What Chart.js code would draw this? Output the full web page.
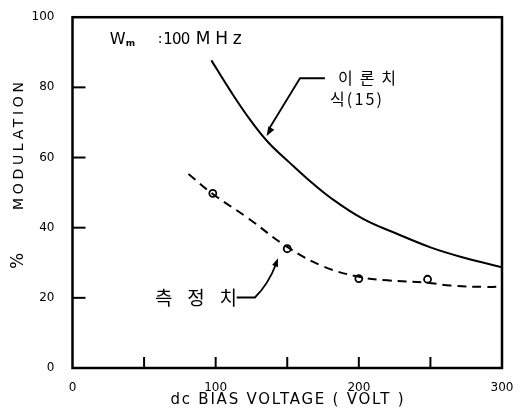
<!DOCTYPE html>
<html>
<head>
<meta charset="utf-8">
<script src="https://cdn.jsdelivr.net/npm/chart.js@4.4.0/dist/chart.umd.min.js"></script>
<style>
  html, body { margin: 0; padding: 0; background: #fff; }
  #chartMod { display: block; }
</style>
</head>
<body>
<canvas id="chartMod" width="532" height="412"></canvas>
<script>
// theory curve, eq.(15)
const theoryX = [97, 110, 124, 137, 152, 165, 180, 203, 227, 250, 273, 300];
const theoryY = [87.7, 79.2, 70.8, 64.2, 58.4, 53.6, 48.6, 42.5, 38.2, 34.4, 31.5, 28.7];

// dashed fit through measured values
const fitX = [81, 98, 122, 150, 175, 200, 220, 248, 264, 289, 300];
const fitY = [55.3, 49.6, 42.9, 34.5, 29, 26, 25, 24.3, 23.5, 23.1, 23.2];

// measured points
const measX = [98, 150, 200, 248];
const measY = [49.8, 34, 25.5, 25.3];

const xTickLabels = [0, 100, 200, 300];
const yTickLabels = [0, 20, 40, 60, 80, 100];

const toPts = (xs, ys) => xs.map((x, i) => ({ x: x, y: ys[i] }));

const FONT = '"DejaVu Sans", sans-serif';

function spacedText(ctx, text, cx, cy, width) {
  // spread letters so the text fills the given width
  ctx.letterSpacing = '0px';
  const w0 = ctx.measureText(text).width;
  const ls = text.length > 1 ? (width - w0) / (text.length - 1) : 0;
  ctx.letterSpacing = ls + 'px';
  ctx.textAlign = 'left';
  ctx.fillText(text, cx - width / 2, cy);
  ctx.letterSpacing = '0px';
}

function arrowHead(ctx, x0, y0, x1, y1, size) {
  const a = Math.atan2(y1 - y0, x1 - x0);
  ctx.beginPath();
  ctx.moveTo(x1, y1);
  ctx.lineTo(x1 - size * Math.cos(a - 0.35), y1 - size * Math.sin(a - 0.35));
  ctx.lineTo(x1 - size * Math.cos(a + 0.35), y1 - size * Math.sin(a + 0.35));
  ctx.closePath();
  ctx.fill();
}

const sketchPlugin = {
  id: 'sketch',
  afterDraw(chart) {
    const ctx = chart.ctx;
    const a = chart.chartArea;
    const xs = chart.scales.x, ys = chart.scales.y;
    const X = v => xs.getPixelForValue(v);
    const Y = v => ys.getPixelForValue(v);
    ctx.save();
    ctx.strokeStyle = '#000';
    ctx.fillStyle = '#000';

    // frame
    ctx.lineWidth = 2.5;
    ctx.strokeRect(a.left, a.top, a.right - a.left, a.bottom - a.top);

    // inward ticks
    ctx.lineWidth = 2;
    [50, 100, 150, 200, 250].forEach(v => {
      ctx.beginPath();
      ctx.moveTo(X(v), a.bottom);
      ctx.lineTo(X(v), a.bottom - 11);
      ctx.stroke();
    });
    [20, 40, 60, 80].forEach(v => {
      ctx.beginPath();
      ctx.moveTo(a.left, Y(v));
      ctx.lineTo(a.left + 13, Y(v));
      ctx.stroke();
    });

    ctx.textBaseline = 'middle';

    // y axis title
    ctx.save();
    ctx.translate(19, 0);
    ctx.rotate(-Math.PI / 2);
    ctx.font = '14px ' + FONT;
    spacedText(ctx, 'MODULATION', -146, 0, 128);
    ctx.font = '17px ' + FONT;
    ctx.textAlign = 'center';
    ctx.fillText('%', -261, 0);
    ctx.restore();

    // x axis title
    ctx.font = '15px ' + FONT;
    spacedText(ctx, 'dc BIAS VOLTAGE ( VOLT )', 287, 400, 233);

    // W_m : 100 MHz
    const wx = X(26), wy = Y(93.6);
    ctx.textAlign = 'left';
    ctx.font = '16px ' + FONT;
    ctx.fillText('W', wx, wy);
    ctx.font = 'bold 9px ' + FONT;
    ctx.fillText('m', wx + 16, wy + 4);
    ctx.font = '14px ' + FONT;
    ctx.fillText(':', wx + 48, wy);
    ctx.font = '15px ' + FONT;
    spacedText(ctx, '100', wx + 67, wy, 27);
    ctx.font = '17px ' + FONT;
    spacedText(ctx, 'MHz', wx + 109, wy, 46);

    // theory label + arrow
    ctx.font = '16px "Noto Sans CJK KR", sans-serif';
    spacedText(ctx, '이론치', X(205.7), Y(82.6), 58);
    spacedText(ctx, '식(15)', X(198), Y(76.6), 52);
    ctx.lineWidth = 1.8;
    ctx.beginPath();
    ctx.moveTo(X(176.3), Y(82.6));
    ctx.lineTo(X(158.9), Y(82.6));
    ctx.lineTo(X(137), Y(68));
    ctx.stroke();
    arrowHead(ctx, X(158.9), Y(82.6), X(135.6), Y(66.1), 10);

    // measured label + arrow
    ctx.font = '19px "Noto Sans CJK KR", sans-serif';
    spacedText(ctx, '측정치', X(86.2), Y(20.1), 82);
    ctx.beginPath();
    ctx.moveTo(X(114.7), Y(20.1));
    ctx.lineTo(X(127.4), Y(20.1));
    ctx.quadraticCurveTo(X(137), Y(24), X(142.3), Y(29.8));
    ctx.stroke();
    arrowHead(ctx, X(137), Y(24), X(143.5), Y(31.3), 9);

    ctx.restore();
  }
};

new Chart(document.getElementById('chartMod'), {
  type: 'scatter',
  data: {
    datasets: [
      {
        label: '이론치',
        data: toPts(theoryX, theoryY),
        showLine: true,
        borderColor: '#000',
        borderWidth: 2,
        pointRadius: 0,
        tension: 0.4
      },
      {
        label: 'fit',
        data: toPts(fitX, fitY),
        showLine: true,
        borderColor: '#000',
        borderWidth: 2,
        borderDash: [9, 6],
        pointRadius: 0,
        tension: 0.4
      },
      {
        label: '측정치',
        data: toPts(measX, measY),
        showLine: false,
        pointRadius: 3.5,
        pointBorderWidth: 1.8,
        pointBorderColor: '#000',
        pointBackgroundColor: '#fff'
      }
    ]
  },
  options: {
    responsive: false,
    animation: false,
    layout: { padding: { top: 15.5, right: 30, left: 0, bottom: 0 } },
    plugins: { legend: { display: false }, tooltip: { enabled: false } },
    scales: {
      x: {
        type: 'linear',
        min: 0,
        max: 300,
        afterFit: s => { s.height = 44; },
        grid: { display: false },
        border: { display: false },
        ticks: {
          stepSize: 100,
          autoSkip: false,
          maxRotation: 0,
          padding: 5,
          color: '#000',
          font: { family: FONT, size: 12 },
          callback: v => xTickLabels.includes(v) ? v : ''
        }
      },
      y: {
        min: 0,
        max: 100,
        afterFit: s => { s.width = 72.5; },
        grid: { display: false },
        border: { display: false },
        ticks: {
          stepSize: 20,
          padding: 10,
          color: '#000',
          font: { family: FONT, size: 12 },
          callback: v => yTickLabels.includes(v) ? v : ''
        }
      }
    }
  },
  plugins: [sketchPlugin]
});
</script>
</body>
</html>
